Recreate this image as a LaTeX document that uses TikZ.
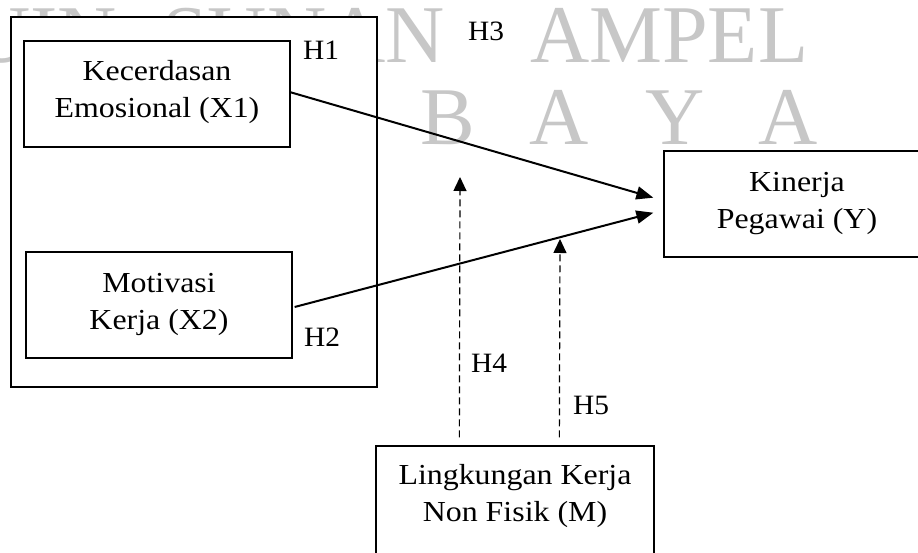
\documentclass[tikz,border=0pt]{standalone}
\usepackage{fontspec}
\setmainfont{Liberation Serif}
\usetikzlibrary{arrows.meta,calc}
\begin{document}
\begin{tikzpicture}[x=1pt,y=-1pt,
  box/.style={draw, line width=1.3pt, fill=white, inner sep=0pt},
  lbl/.style={font=\fontsize{29}{37}\selectfont, align=center, inner sep=0pt, xscale=1.1, transform shape},
  hyp/.style={font=\fontsize{28}{34}\selectfont, inner sep=0pt, xscale=1.05, transform shape},
  wm/.style={font=\fontsize{82}{82}\selectfont, text=black!22, inner sep=0pt},
  conn/.style={line width=2pt, -{Triangle[length=17pt,width=13pt]}},
  mod/.style={line width=1.2pt, dash pattern=on 7pt off 4pt, -{Triangle[length=14pt,width=13pt]}}]
\clip (0,0) rectangle (918,553);
\fill[white] (0,0) rectangle (918,553);
% watermark
\node[wm, anchor=base east] (wm1) at (117,63) {UIN};
\node[wm, anchor=base east] (wm2) at (445,63) {SUNAN};
\node[wm, anchor=base west] (wm3) at (530,63) {AMPEL};
\node[wm, anchor=base] (wm4) at (448,145) {B};
\node[wm, anchor=base] (wm5) at (559,145) {A};
\node[wm, anchor=base] (wm6) at (675,145) {Y};
\node[wm, anchor=base] (wm7) at (788,145) {A};
% boxes
\node[box, minimum width=366pt, minimum height=370pt] (outer) at (194,202) {};
\node[box, minimum width=266pt, minimum height=106pt] (kx1) at (157,94) {};
\node[lbl] (kx1t) at (157,92.2) {Kecerdasan\\Emosional (X1)};
\node[box, minimum width=266pt, minimum height=106pt] (mx2) at (159,305) {};
\node[lbl] (mx2t) at (159,304.7) {Motivasi\\Kerja (X2)};
\node[box, minimum width=266pt, minimum height=106pt] (ky) at (797,204) {};
\node[lbl] (kyt) at (797,203.7) {Kinerja\\Pegawai (Y)};
\node[box, minimum width=278pt, minimum height=112pt] (lm) at (515,502) {};
\node[lbl] (lmt) at (515,496.2) {Lingkungan Kerja\\Non Fisik (M)};
% hypothesis labels
\node[fill=white, inner sep=0pt, minimum width=82pt, minimum height=63pt] (h3box) at (486,31.5) {};
\node[hyp] (h3) at (486,31) {H3};
\node[hyp] (h1) at (321,50) {H1};
\node[hyp] (h2) at (322,337) {H2};
\node[hyp] (h4) at (489,363) {H4};
\node[hyp] (h5) at (591,405) {H5};
% connectors
\draw[conn] ($(kx1.east)+(-1,-2)$) -- ($(ky.west)+(-10,-6.3)$);
\draw[conn] ($(mx2.east)+(2,2)$) -- ($(ky.west)+(-10,8.7)$);
\coordinate (h4t) at (460,177);
\coordinate (h5t) at (560,239);
\draw[mod] ($(lm.north west)+(84,-8)$) -- (h4t);
\draw[mod] ($(lm.north west)+(184,-8)$) -- (h5t);
\end{tikzpicture}
\end{document}
